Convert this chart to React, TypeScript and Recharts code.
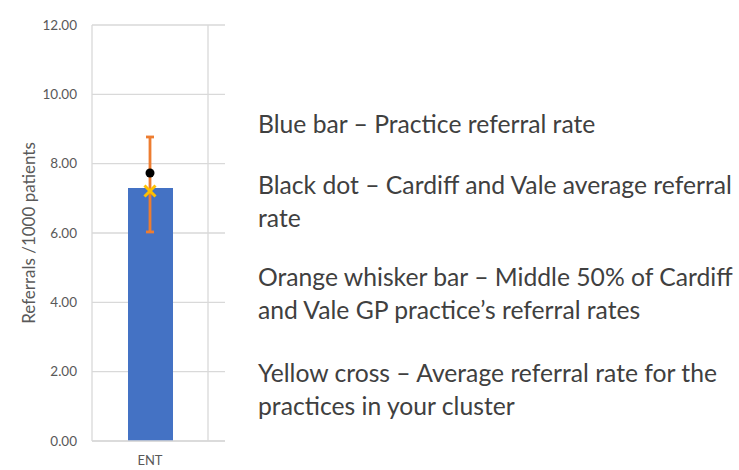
import { ComposedChart, Bar, Line, XAxis, YAxis, CartesianGrid, ErrorBar, ReferenceLine } from "recharts";

// categories (second one is cut off at the right edge of the picture)
const categories = ["ENT", ""];
const practiceRate = [7.3, null];
const cvAverage = [7.73, null];
const cvQ1 = [6.03, null];
const cvQ3 = [8.77, null];
const clusterAverage = [7.21, null];

const yTicks = [0, 2, 4, 6, 8, 10, 12];

const notes = [
  ["Blue bar – Practice referral rate"],
  ["Black dot – Cardiff and Vale average referral", "rate"],
  ["Orange whisker bar – Middle 50% of Cardiff", "and Vale GP practice’s referral rates"],
  ["Yellow cross – Average referral rate for the", "practices in your cluster"],
];
const noteTops = [107, 168, 260, 356];

const data = categories.map((cat, i) => ({
  cat,
  practice: practiceRate[i],
  avg: cvAverage[i],
  cluster: clusterAverage[i],
  iqr:
    cvAverage[i] == null ? null : [cvAverage[i]! - cvQ1[i]!, cvQ3[i]! - cvAverage[i]!],
}));

const FONT = "Lato, 'Liberation Sans', sans-serif";
const GRID = "#d9d9d9";

const BlackDot = (props: any) => {
  const { cx, cy, value } = props;
  if (value == null || cx == null || cy == null) return null;
  return <circle cx={cx} cy={cy} r={4.5} fill="#000" />;
};

const YellowCross = (props: any) => {
  const { cx, cy, value } = props;
  if (value == null || cx == null || cy == null) return null;
  const s = 5.5;
  return (
    <g stroke="#FFC000" strokeWidth={3} strokeLinecap="butt">
      <line x1={cx - s} y1={cy - s} x2={cx + s} y2={cy + s} />
      <line x1={cx - s} y1={cy + s} x2={cx + s} y2={cy - s} />
    </g>
  );
};

const AxisTitle = (props: any) => {
  const { viewBox } = props;
  const x = viewBox.x + 28;
  const y = viewBox.y + viewBox.height / 2;
  return (
    <text
      x={x}
      y={y}
      transform={`rotate(-90 ${x} ${y})`}
      textAnchor="middle"
      dominantBaseline="central"
      fill="#595959"
      fontSize={17}
      fontFamily={FONT}
    >
      Referrals /1000 patients
    </text>
  );
};

export default function App() {
  return (
    <div
      style={{
        position: "absolute",
        left: 0,
        top: 0,
        width: 739,
        height: 470,
        background: "#fff",
        overflow: "hidden",
        fontFamily: FONT,
      }}
    >
      <div style={{ position: "absolute", left: 0, top: 0, width: 225, height: 470, overflow: "hidden" }}>
        <ComposedChart
          width={340}
          height={470}
          data={data}
          margin={{ top: 25, right: 16, bottom: 0, left: 0 }}
          barCategoryGap={0}
        >
          <CartesianGrid vertical={false} stroke={GRID} strokeWidth={1.3} />
          <ReferenceLine x="ENT" position="start" stroke={GRID} strokeWidth={1.3} />
          <ReferenceLine x="ENT" position="end" stroke={GRID} strokeWidth={1.3} />
          <XAxis
            dataKey="cat"
            axisLine={{ stroke: GRID, strokeWidth: 1.3 }}
            tickLine={false}
            tickSize={0}
            tickMargin={15}
            tick={{ fill: "#595959", fontSize: 13, fontFamily: FONT }}
            height={29}
          />
          <YAxis
            domain={[0, 12]}
            ticks={yTicks}
            interval={0}
            width={92}
            axisLine={false}
            tickLine={false}
            tickSize={0}
            tickMargin={15}
            tickFormatter={(v: number) => v.toFixed(2)}
            tick={{ fill: "#595959", fontSize: 13.5, fontFamily: FONT }}
            label={{ content: <AxisTitle /> }}
          />
          <Bar dataKey="practice" fill="#4472C4" barSize={45} isAnimationActive={false} />
          <Line dataKey="avg" stroke="none" dot={false} activeDot={false} isAnimationActive={false}>
            <ErrorBar dataKey="iqr" direction="y" width={4} stroke="#ED7D31" strokeWidth={2.8} />
          </Line>
          <Line dataKey="avg" stroke="none" dot={<BlackDot />} activeDot={false} isAnimationActive={false} />
          <Line dataKey="cluster" stroke="none" dot={<YellowCross />} activeDot={false} isAnimationActive={false} />
        </ComposedChart>
      </div>
      {notes.map((lines, i) => (
        <div
          key={i}
          style={{
            position: "absolute",
            left: 258,
            top: noteTops[i],
            fontSize: 24.7,
            lineHeight: "33px",
            color: "#404040",
            whiteSpace: "nowrap",
          }}
        >
          {lines.map((l, j) => (
            <div key={j}>{l}</div>
          ))}
        </div>
      ))}
    </div>
  );
}
